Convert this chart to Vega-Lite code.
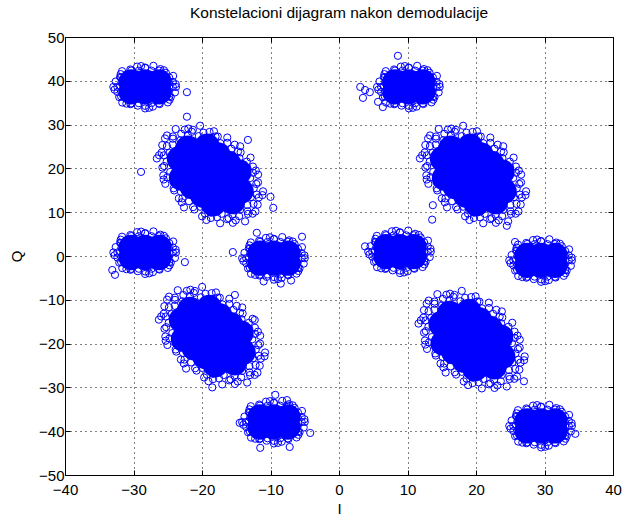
{
  "$schema": "https://vega.github.io/schema/vega-lite/v6.json",
  "width": 548,
  "height": 438,
  "autosize": {"type": "none"},
  "padding": {"left": 65, "top": 37, "right": 12, "bottom": 41},
  "background": "white",
  "title": {
    "text": "Konstelacioni dijagram nakon demodulacije",
    "font": "Liberation Sans",
    "fontSize": 15.5,
    "fontWeight": "normal",
    "color": "#000000",
    "anchor": "middle",
    "offset": 9
  },
  "datasets": {
    "core": [
      {"i": -15.55, "q": 12.40}, {"i": -14.30, "q": 14.82}, {"i": -23.30, "q": 22.18}, {"i": -22.05, "q": 24.60},
      {"i": -18.35, "q": 11.93}, {"i": -17.10, "q": 14.35}, {"i": -15.85, "q": 16.77}, {"i": -14.60, "q": 19.20},
      {"i": -19.91, "q": 13.89}, {"i": -18.65, "q": 16.31}, {"i": -17.40, "q": 18.73}, {"i": -16.15, "q": 21.15},
      {"i": -19.25, "q": 25.07}, {"i": -20.50, "q": 22.65}, {"i": -21.75, "q": 20.23}, {"i": -23.00, "q": 17.80},
      {"i": -17.69, "q": 23.11}, {"i": -18.95, "q": 20.69}, {"i": -20.20, "q": 18.27}, {"i": -21.45, "q": 15.85},

      {"i": 22.85, "q": 12.40}, {"i": 24.10, "q": 14.82}, {"i": 15.10, "q": 22.18}, {"i": 16.35, "q": 24.60},
      {"i": 20.05, "q": 11.93}, {"i": 21.30, "q": 14.35}, {"i": 22.55, "q": 16.77}, {"i": 23.80, "q": 19.20},
      {"i": 18.49, "q": 13.89}, {"i": 19.75, "q": 16.31}, {"i": 21.00, "q": 18.73}, {"i": 22.25, "q": 21.15},
      {"i": 19.15, "q": 25.07}, {"i": 17.90, "q": 22.65}, {"i": 16.65, "q": 20.23}, {"i": 15.40, "q": 17.80},
      {"i": 20.71, "q": 23.11}, {"i": 19.45, "q": 20.69}, {"i": 18.20, "q": 18.27}, {"i": 16.95, "q": 15.85},

      {"i": -15.25, "q": -24.40}, {"i": -14.00, "q": -21.98}, {"i": -23.00, "q": -14.62}, {"i": -21.75, "q": -12.20},
      {"i": -18.05, "q": -24.87}, {"i": -16.80, "q": -22.45}, {"i": -15.55, "q": -20.03}, {"i": -14.30, "q": -17.60},
      {"i": -19.61, "q": -22.91}, {"i": -18.35, "q": -20.49}, {"i": -17.10, "q": -18.07}, {"i": -15.85, "q": -15.65},
      {"i": -18.95, "q": -11.73}, {"i": -20.20, "q": -14.15}, {"i": -21.45, "q": -16.57}, {"i": -22.70, "q": -19.00},
      {"i": -17.39, "q": -13.69}, {"i": -18.65, "q": -16.11}, {"i": -19.90, "q": -18.53}, {"i": -21.15, "q": -20.95},

      {"i": 22.65, "q": -25.30}, {"i": 23.90, "q": -22.88}, {"i": 14.90, "q": -15.52}, {"i": 16.15, "q": -13.10},
      {"i": 19.85, "q": -25.77}, {"i": 21.10, "q": -23.35}, {"i": 22.35, "q": -20.93}, {"i": 23.60, "q": -18.50},
      {"i": 18.29, "q": -23.81}, {"i": 19.55, "q": -21.39}, {"i": 20.80, "q": -18.97}, {"i": 22.05, "q": -16.55},
      {"i": 18.95, "q": -12.63}, {"i": 17.70, "q": -15.05}, {"i": 16.45, "q": -17.47}, {"i": 15.20, "q": -19.90},
      {"i": 20.51, "q": -14.59}, {"i": 19.25, "q": -17.01}, {"i": 18.00, "q": -19.43}, {"i": 16.75, "q": -21.85},

      {"i": -30.34, "q": 39.74}, {"i": -28.30, "q": 39.74}, {"i": -26.26, "q": 39.74},
      {"i": -30.34, "q": 37.46}, {"i": -28.30, "q": 37.46}, {"i": -26.26, "q": 37.46},
      {"i": 8.16, "q": 39.74}, {"i": 10.20, "q": 39.74}, {"i": 12.24, "q": 39.74},
      {"i": 8.16, "q": 37.46}, {"i": 10.20, "q": 37.46}, {"i": 12.24, "q": 37.46},
      {"i": -30.34, "q": 1.94}, {"i": -28.30, "q": 1.94}, {"i": -26.26, "q": 1.94},
      {"i": -30.34, "q": -0.34}, {"i": -28.30, "q": -0.34}, {"i": -26.26, "q": -0.34},
      {"i": -11.54, "q": 0.64}, {"i": -9.50, "q": 0.64}, {"i": -7.46, "q": 0.64},
      {"i": -11.54, "q": -1.64}, {"i": -9.50, "q": -1.64}, {"i": -7.46, "q": -1.64},
      {"i": 6.86, "q": 2.14}, {"i": 8.90, "q": 2.14}, {"i": 10.94, "q": 2.14},
      {"i": 6.86, "q": -0.14}, {"i": 8.90, "q": -0.14}, {"i": 10.94, "q": -0.14},
      {"i": 27.46, "q": 0.14}, {"i": 29.50, "q": 0.14}, {"i": 31.54, "q": 0.14},
      {"i": 27.46, "q": -2.14}, {"i": 29.50, "q": -2.14}, {"i": 31.54, "q": -2.14},
      {"i": -11.54, "q": -36.76}, {"i": -9.50, "q": -36.76}, {"i": -7.46, "q": -36.76},
      {"i": -11.54, "q": -39.04}, {"i": -9.50, "q": -39.04}, {"i": -7.46, "q": -39.04},
      {"i": 27.46, "q": -37.66}, {"i": 29.50, "q": -37.66}, {"i": 31.54, "q": -37.66},
      {"i": 27.46, "q": -39.94}, {"i": 29.50, "q": -39.94}, {"i": 31.54, "q": -39.94}
    ],
    "ring": [
      {"i": -12.20, "q": 10.16}, {"i": -13.29, "q": 9.62}, {"i": -13.71, "q": 7.91}, {"i": -15.08, "q": 8.15},
      {"i": -16.33, "q": 8.41}, {"i": -17.35, "q": 7.47}, {"i": -18.70, "q": 8.68}, {"i": -19.99, "q": 9.06},
      {"i": -21.10, "q": 10.63}, {"i": -22.63, "q": 11.10}, {"i": -23.38, "q": 13.16}, {"i": -24.06, "q": 14.97},
      {"i": -25.35, "q": 16.48}, {"i": -25.65, "q": 18.41}, {"i": -25.78, "q": 20.20}, {"i": -26.59, "q": 22.27},
      {"i": -25.89, "q": 23.63}, {"i": -25.80, "q": 25.33}, {"i": -25.40, "q": 26.84}, {"i": -24.25, "q": 27.29},
      {"i": -23.84, "q": 28.99}, {"i": -22.52, "q": 28.85}, {"i": -21.33, "q": 28.81}, {"i": -20.28, "q": 29.74},
      {"i": -18.90, "q": 28.32}, {"i": -17.70, "q": 27.28}, {"i": -16.31, "q": 27.04}, {"i": -15.23, "q": 25.41},
      {"i": -14.36, "q": 23.67}, {"i": -12.91, "q": 22.46}, {"i": -12.57, "q": 20.42}, {"i": -11.81, "q": 18.59},
      {"i": -11.82, "q": 16.80}, {"i": -11.09, "q": 14.77}, {"i": -11.71, "q": 13.37}, {"i": -11.87, "q": 11.74},
      {"i": -12.61, "q": 9.66}, {"i": -15.50, "q": 7.58}, {"i": -19.36, "q": 8.22}, {"i": -22.96, "q": 12.27},
      {"i": -25.60, "q": 17.46}, {"i": -26.26, "q": 23.00}, {"i": -25.11, "q": 27.52}, {"i": -22.00, "q": 29.09},
      {"i": -18.26, "q": 28.48}, {"i": -14.43, "q": 25.05}, {"i": -12.14, "q": 19.52}, {"i": -11.18, "q": 13.90},
      {"i": -13.38, "q": 11.65}, {"i": -14.45, "q": 10.55}, {"i": -15.54, "q": 9.44}, {"i": -17.13, "q": 9.63},
      {"i": -18.70, "q": 9.90}, {"i": -20.28, "q": 11.25}, {"i": -21.89, "q": 12.51}, {"i": -23.07, "q": 14.67},
      {"i": -24.13, "q": 16.86}, {"i": -24.64, "q": 19.19}, {"i": -25.15, "q": 21.58}, {"i": -24.75, "q": 23.54},
      {"i": -24.28, "q": 25.43}, {"i": -23.15, "q": 26.45}, {"i": -22.06, "q": 27.56}, {"i": -20.47, "q": 27.37},
      {"i": -18.89, "q": 26.99}, {"i": -17.32, "q": 25.75}, {"i": -15.71, "q": 24.49}, {"i": -14.53, "q": 22.33},
      {"i": -13.40, "q": 20.16}, {"i": -12.96, "q": 17.81}, {"i": -12.45, "q": 15.42}, {"i": -12.85, "q": 13.46},
      {"i": -13.35, "q": 10.22}, {"i": -14.58, "q": 9.11}, {"i": -16.11, "q": 8.64}, {"i": -17.81, "q": 8.84},
      {"i": -19.58, "q": 9.71}, {"i": -21.30, "q": 11.16}, {"i": -22.86, "q": 13.14}, {"i": -24.14, "q": 15.45},
      {"i": -25.05, "q": 17.99}, {"i": -25.53, "q": 20.55}, {"i": -25.56, "q": 22.98}, {"i": -25.12, "q": 25.10},
      {"i": -24.25, "q": 26.78}, {"i": -23.02, "q": 27.89}, {"i": -21.49, "q": 28.36}, {"i": -19.79, "q": 28.16},
      {"i": -18.02, "q": 27.29}, {"i": -16.30, "q": 25.84}, {"i": -14.74, "q": 23.86}, {"i": -13.46, "q": 21.55},
      {"i": -12.55, "q": 19.01}, {"i": -12.07, "q": 16.45}, {"i": -12.04, "q": 14.02}, {"i": -12.48, "q": 11.90},
      {"i": -28.9, "q": 19.2}, {"i": -22.2, "q": 31.8}, {"i": -10.0, "q": 13.5}, {"i": -9.6, "q": 11.0}, {"i": -13.3, "q": 26.5},

      {"i": 26.20, "q": 10.16}, {"i": 25.11, "q": 9.62}, {"i": 24.69, "q": 7.91}, {"i": 23.32, "q": 8.15},
      {"i": 22.07, "q": 8.41}, {"i": 21.05, "q": 7.47}, {"i": 19.70, "q": 8.68}, {"i": 18.41, "q": 9.06},
      {"i": 17.30, "q": 10.63}, {"i": 15.77, "q": 11.10}, {"i": 15.02, "q": 13.16}, {"i": 14.34, "q": 14.97},
      {"i": 13.05, "q": 16.48}, {"i": 12.75, "q": 18.41}, {"i": 12.62, "q": 20.20}, {"i": 11.81, "q": 22.27},
      {"i": 12.51, "q": 23.63}, {"i": 12.60, "q": 25.33}, {"i": 13.00, "q": 26.84}, {"i": 14.15, "q": 27.29},
      {"i": 14.56, "q": 28.99}, {"i": 15.88, "q": 28.85}, {"i": 17.07, "q": 28.81}, {"i": 18.12, "q": 29.74},
      {"i": 19.50, "q": 28.32}, {"i": 20.70, "q": 27.28}, {"i": 22.09, "q": 27.04}, {"i": 23.17, "q": 25.41},
      {"i": 24.04, "q": 23.67}, {"i": 25.49, "q": 22.46}, {"i": 25.83, "q": 20.42}, {"i": 26.59, "q": 18.59},
      {"i": 26.58, "q": 16.80}, {"i": 27.31, "q": 14.77}, {"i": 26.69, "q": 13.37}, {"i": 26.53, "q": 11.74},
      {"i": 25.79, "q": 9.66}, {"i": 22.90, "q": 7.58}, {"i": 19.04, "q": 8.22}, {"i": 15.44, "q": 12.27},
      {"i": 12.80, "q": 17.46}, {"i": 12.14, "q": 23.00}, {"i": 13.29, "q": 27.52}, {"i": 16.40, "q": 29.09},
      {"i": 20.14, "q": 28.48}, {"i": 23.97, "q": 25.05}, {"i": 26.26, "q": 19.52}, {"i": 27.22, "q": 13.90},
      {"i": 25.02, "q": 11.65}, {"i": 23.95, "q": 10.55}, {"i": 22.86, "q": 9.44}, {"i": 21.27, "q": 9.63},
      {"i": 19.70, "q": 9.90}, {"i": 18.12, "q": 11.25}, {"i": 16.51, "q": 12.51}, {"i": 15.33, "q": 14.67},
      {"i": 14.27, "q": 16.86}, {"i": 13.76, "q": 19.19}, {"i": 13.25, "q": 21.58}, {"i": 13.65, "q": 23.54},
      {"i": 14.12, "q": 25.43}, {"i": 15.25, "q": 26.45}, {"i": 16.34, "q": 27.56}, {"i": 17.93, "q": 27.37},
      {"i": 19.51, "q": 26.99}, {"i": 21.08, "q": 25.75}, {"i": 22.69, "q": 24.49}, {"i": 23.87, "q": 22.33},
      {"i": 25.00, "q": 20.16}, {"i": 25.44, "q": 17.81}, {"i": 25.95, "q": 15.42}, {"i": 25.55, "q": 13.46},
      {"i": 25.05, "q": 10.22}, {"i": 23.82, "q": 9.11}, {"i": 22.29, "q": 8.64}, {"i": 20.59, "q": 8.84},
      {"i": 18.82, "q": 9.71}, {"i": 17.10, "q": 11.16}, {"i": 15.54, "q": 13.14}, {"i": 14.26, "q": 15.45},
      {"i": 13.35, "q": 17.99}, {"i": 12.87, "q": 20.55}, {"i": 12.84, "q": 22.98}, {"i": 13.28, "q": 25.10},
      {"i": 14.15, "q": 26.78}, {"i": 15.38, "q": 27.89}, {"i": 16.91, "q": 28.36}, {"i": 18.61, "q": 28.16},
      {"i": 20.38, "q": 27.29}, {"i": 22.10, "q": 25.84}, {"i": 23.66, "q": 23.86}, {"i": 24.94, "q": 21.55},
      {"i": 25.85, "q": 19.01}, {"i": 26.33, "q": 16.45}, {"i": 26.36, "q": 14.02}, {"i": 25.92, "q": 11.90},
      {"i": 13.6, "q": 8.3}, {"i": 13.7, "q": 11.6}, {"i": 24.5, "q": 6.9},

      {"i": -11.90, "q": -26.64}, {"i": -12.99, "q": -27.18}, {"i": -13.41, "q": -28.89}, {"i": -14.78, "q": -28.65},
      {"i": -16.03, "q": -28.39}, {"i": -17.05, "q": -29.33}, {"i": -18.40, "q": -28.12}, {"i": -19.69, "q": -27.74},
      {"i": -20.80, "q": -26.17}, {"i": -22.33, "q": -25.70}, {"i": -23.08, "q": -23.64}, {"i": -23.76, "q": -21.83},
      {"i": -25.05, "q": -20.32}, {"i": -25.35, "q": -18.39}, {"i": -25.48, "q": -16.60}, {"i": -26.29, "q": -14.53},
      {"i": -25.59, "q": -13.17}, {"i": -25.50, "q": -11.47}, {"i": -25.10, "q": -9.96}, {"i": -23.95, "q": -9.51},
      {"i": -23.54, "q": -7.81}, {"i": -22.22, "q": -7.95}, {"i": -21.03, "q": -7.99}, {"i": -19.98, "q": -7.06},
      {"i": -18.60, "q": -8.48}, {"i": -17.40, "q": -9.52}, {"i": -16.01, "q": -9.76}, {"i": -14.93, "q": -11.39},
      {"i": -14.06, "q": -13.13}, {"i": -12.61, "q": -14.34}, {"i": -12.27, "q": -16.38}, {"i": -11.51, "q": -18.21},
      {"i": -11.52, "q": -20.00}, {"i": -10.79, "q": -22.03}, {"i": -11.41, "q": -23.43}, {"i": -11.57, "q": -25.06},
      {"i": -12.31, "q": -27.14}, {"i": -15.20, "q": -29.22}, {"i": -19.06, "q": -28.58}, {"i": -22.66, "q": -24.53},
      {"i": -25.30, "q": -19.34}, {"i": -25.96, "q": -13.80}, {"i": -24.81, "q": -9.28}, {"i": -21.70, "q": -7.71},
      {"i": -17.96, "q": -8.32}, {"i": -14.13, "q": -11.75}, {"i": -11.84, "q": -17.28}, {"i": -10.88, "q": -22.90},
      {"i": -13.08, "q": -25.15}, {"i": -14.15, "q": -26.25}, {"i": -15.24, "q": -27.36}, {"i": -16.83, "q": -27.17},
      {"i": -18.40, "q": -26.90}, {"i": -19.98, "q": -25.55}, {"i": -21.59, "q": -24.29}, {"i": -22.77, "q": -22.13},
      {"i": -23.83, "q": -19.94}, {"i": -24.34, "q": -17.61}, {"i": -24.85, "q": -15.22}, {"i": -24.45, "q": -13.26},
      {"i": -23.98, "q": -11.37}, {"i": -22.85, "q": -10.35}, {"i": -21.76, "q": -9.24}, {"i": -20.17, "q": -9.43},
      {"i": -18.59, "q": -9.81}, {"i": -17.02, "q": -11.05}, {"i": -15.41, "q": -12.31}, {"i": -14.23, "q": -14.47},
      {"i": -13.10, "q": -16.64}, {"i": -12.66, "q": -18.99}, {"i": -12.15, "q": -21.38}, {"i": -12.55, "q": -23.34},
      {"i": -13.05, "q": -26.58}, {"i": -14.28, "q": -27.69}, {"i": -15.81, "q": -28.16}, {"i": -17.51, "q": -27.96},
      {"i": -19.28, "q": -27.09}, {"i": -21.00, "q": -25.64}, {"i": -22.56, "q": -23.66}, {"i": -23.84, "q": -21.35},
      {"i": -24.75, "q": -18.81}, {"i": -25.23, "q": -16.25}, {"i": -25.26, "q": -13.82}, {"i": -24.82, "q": -11.70},
      {"i": -23.95, "q": -10.02}, {"i": -22.72, "q": -8.91}, {"i": -21.19, "q": -8.44}, {"i": -19.49, "q": -8.64},
      {"i": -17.72, "q": -9.51}, {"i": -16.00, "q": -10.96}, {"i": -14.44, "q": -12.94}, {"i": -13.16, "q": -15.25},
      {"i": -12.25, "q": -17.79}, {"i": -11.77, "q": -20.35}, {"i": -11.74, "q": -22.78}, {"i": -12.18, "q": -24.90},
      {"i": -15.2, "q": -8.9}, {"i": -12.3, "q": -14.6}, {"i": -18.5, "q": -30.0},

      {"i": 26.00, "q": -27.54}, {"i": 24.91, "q": -28.08}, {"i": 24.49, "q": -29.79}, {"i": 23.12, "q": -29.55},
      {"i": 21.87, "q": -29.29}, {"i": 20.85, "q": -30.23}, {"i": 19.50, "q": -29.02}, {"i": 18.21, "q": -28.64},
      {"i": 17.10, "q": -27.07}, {"i": 15.57, "q": -26.60}, {"i": 14.82, "q": -24.54}, {"i": 14.14, "q": -22.73},
      {"i": 12.85, "q": -21.22}, {"i": 12.55, "q": -19.29}, {"i": 12.42, "q": -17.50}, {"i": 11.61, "q": -15.43},
      {"i": 12.31, "q": -14.07}, {"i": 12.40, "q": -12.37}, {"i": 12.80, "q": -10.86}, {"i": 13.95, "q": -10.41},
      {"i": 14.36, "q": -8.71}, {"i": 15.68, "q": -8.85}, {"i": 16.87, "q": -8.89}, {"i": 17.92, "q": -7.96},
      {"i": 19.30, "q": -9.38}, {"i": 20.50, "q": -10.42}, {"i": 21.89, "q": -10.66}, {"i": 22.97, "q": -12.29},
      {"i": 23.84, "q": -14.03}, {"i": 25.29, "q": -15.24}, {"i": 25.63, "q": -17.28}, {"i": 26.39, "q": -19.11},
      {"i": 26.38, "q": -20.90}, {"i": 27.11, "q": -22.93}, {"i": 26.49, "q": -24.33}, {"i": 26.33, "q": -25.96},
      {"i": 25.59, "q": -28.04}, {"i": 22.70, "q": -30.12}, {"i": 18.84, "q": -29.48}, {"i": 15.24, "q": -25.43},
      {"i": 12.60, "q": -20.24}, {"i": 11.94, "q": -14.70}, {"i": 13.09, "q": -10.18}, {"i": 16.20, "q": -8.61},
      {"i": 19.94, "q": -9.22}, {"i": 23.77, "q": -12.65}, {"i": 26.06, "q": -18.18}, {"i": 27.02, "q": -23.80},
      {"i": 24.82, "q": -26.05}, {"i": 23.75, "q": -27.15}, {"i": 22.66, "q": -28.26}, {"i": 21.07, "q": -28.07},
      {"i": 19.50, "q": -27.80}, {"i": 17.92, "q": -26.45}, {"i": 16.31, "q": -25.19}, {"i": 15.13, "q": -23.03},
      {"i": 14.07, "q": -20.84}, {"i": 13.56, "q": -18.51}, {"i": 13.05, "q": -16.12}, {"i": 13.45, "q": -14.16},
      {"i": 13.92, "q": -12.27}, {"i": 15.05, "q": -11.25}, {"i": 16.14, "q": -10.14}, {"i": 17.73, "q": -10.33},
      {"i": 19.31, "q": -10.71}, {"i": 20.88, "q": -11.95}, {"i": 22.49, "q": -13.21}, {"i": 23.67, "q": -15.37},
      {"i": 24.80, "q": -17.54}, {"i": 25.24, "q": -19.89}, {"i": 25.75, "q": -22.28}, {"i": 25.35, "q": -24.24},
      {"i": 24.85, "q": -27.48}, {"i": 23.62, "q": -28.59}, {"i": 22.09, "q": -29.06}, {"i": 20.39, "q": -28.86},
      {"i": 18.62, "q": -27.99}, {"i": 16.90, "q": -26.54}, {"i": 15.34, "q": -24.56}, {"i": 14.06, "q": -22.25},
      {"i": 13.15, "q": -19.71}, {"i": 12.67, "q": -17.15}, {"i": 12.64, "q": -14.72}, {"i": 13.08, "q": -12.60},
      {"i": 13.95, "q": -10.92}, {"i": 15.18, "q": -9.81}, {"i": 16.71, "q": -9.34}, {"i": 18.41, "q": -9.54},
      {"i": 20.18, "q": -10.41}, {"i": 21.90, "q": -11.86}, {"i": 23.46, "q": -13.84}, {"i": 24.74, "q": -16.15},
      {"i": 25.65, "q": -18.69}, {"i": 26.13, "q": -21.25}, {"i": 26.16, "q": -23.68}, {"i": 25.72, "q": -25.80},
      {"i": 27.0, "q": -28.6},

      {"i": -23.80, "q": 38.60}, {"i": -24.26, "q": 39.76}, {"i": -24.21, "q": 41.12}, {"i": -25.28, "q": 41.82},
      {"i": -26.09, "q": 42.67}, {"i": -27.09, "q": 43.42}, {"i": -28.30, "q": 43.02}, {"i": -29.47, "q": 43.24},
      {"i": -30.46, "q": 42.59}, {"i": -31.67, "q": 42.20}, {"i": -31.96, "q": 40.86}, {"i": -32.60, "q": 39.83},
      {"i": -32.94, "q": 38.60}, {"i": -32.34, "q": 37.44}, {"i": -32.08, "q": 36.27}, {"i": -31.64, "q": 35.04},
      {"i": -30.44, "q": 34.65}, {"i": -29.37, "q": 34.33}, {"i": -28.30, "q": 33.70}, {"i": -27.17, "q": 34.10},
      {"i": -26.18, "q": 34.69}, {"i": -24.99, "q": 35.07}, {"i": -24.56, "q": 36.30}, {"i": -23.95, "q": 37.36},
      {"i": -23.84, "q": 39.23}, {"i": -25.56, "q": 42.41}, {"i": -28.89, "q": 43.36}, {"i": -31.87, "q": 41.52},
      {"i": -32.76, "q": 37.97}, {"i": -31.04, "q": 34.79}, {"i": -27.71, "q": 33.84}, {"i": -24.73, "q": 35.68},
      {"i": -24.82, "q": 39.59}, {"i": -25.75, "q": 41.32}, {"i": -27.37, "q": 42.31}, {"i": -29.23, "q": 42.31},
      {"i": -30.85, "q": 41.32}, {"i": -31.78, "q": 39.59}, {"i": -31.78, "q": 37.61}, {"i": -30.85, "q": 35.88},
      {"i": -29.23, "q": 34.89}, {"i": -27.37, "q": 34.89}, {"i": -25.75, "q": 35.88}, {"i": -24.82, "q": 37.61},
      {"i": -24.25, "q": 38.60}, {"i": -24.79, "q": 40.76}, {"i": -26.27, "q": 42.34}, {"i": -28.30, "q": 42.92},
      {"i": -30.33, "q": 42.34}, {"i": -31.81, "q": 40.76}, {"i": -32.35, "q": 38.60}, {"i": -31.81, "q": 36.44},
      {"i": -30.33, "q": 34.86}, {"i": -28.30, "q": 34.28}, {"i": -26.27, "q": 34.86}, {"i": -24.79, "q": 36.44},
      {"i": -22.2, "q": 37.4},

      {"i": 14.70, "q": 38.60}, {"i": 14.24, "q": 39.76}, {"i": 14.29, "q": 41.12}, {"i": 13.22, "q": 41.82},
      {"i": 12.41, "q": 42.67}, {"i": 11.41, "q": 43.42}, {"i": 10.20, "q": 43.02}, {"i": 9.03, "q": 43.24},
      {"i": 8.04, "q": 42.59}, {"i": 6.83, "q": 42.20}, {"i": 6.54, "q": 40.86}, {"i": 5.90, "q": 39.83},
      {"i": 5.56, "q": 38.60}, {"i": 6.16, "q": 37.44}, {"i": 6.42, "q": 36.27}, {"i": 6.86, "q": 35.04},
      {"i": 8.06, "q": 34.65}, {"i": 9.13, "q": 34.33}, {"i": 10.20, "q": 33.70}, {"i": 11.33, "q": 34.10},
      {"i": 12.32, "q": 34.69}, {"i": 13.51, "q": 35.07}, {"i": 13.94, "q": 36.30}, {"i": 14.55, "q": 37.36},
      {"i": 14.66, "q": 39.23}, {"i": 12.94, "q": 42.41}, {"i": 9.61, "q": 43.36}, {"i": 6.63, "q": 41.52},
      {"i": 5.74, "q": 37.97}, {"i": 7.46, "q": 34.79}, {"i": 10.79, "q": 33.84}, {"i": 13.77, "q": 35.68},
      {"i": 13.68, "q": 39.59}, {"i": 12.75, "q": 41.32}, {"i": 11.13, "q": 42.31}, {"i": 9.27, "q": 42.31},
      {"i": 7.65, "q": 41.32}, {"i": 6.72, "q": 39.59}, {"i": 6.72, "q": 37.61}, {"i": 7.65, "q": 35.88},
      {"i": 9.27, "q": 34.89}, {"i": 11.13, "q": 34.89}, {"i": 12.75, "q": 35.88}, {"i": 13.68, "q": 37.61},
      {"i": 14.25, "q": 38.60}, {"i": 13.71, "q": 40.76}, {"i": 12.23, "q": 42.34}, {"i": 10.20, "q": 42.92},
      {"i": 8.17, "q": 42.34}, {"i": 6.69, "q": 40.76}, {"i": 6.15, "q": 38.60}, {"i": 6.69, "q": 36.44},
      {"i": 8.17, "q": 34.86}, {"i": 10.20, "q": 34.28}, {"i": 12.23, "q": 34.86}, {"i": 13.71, "q": 36.44},
      {"i": 8.6, "q": 45.7}, {"i": 3.1, "q": 38.6}, {"i": 3.8, "q": 37.9}, {"i": 4.5, "q": 37.4},
      {"i": 3.5, "q": 36.1}, {"i": 6.4, "q": 34.0}, {"i": 5.7, "q": 35.2},

      {"i": -23.80, "q": 0.80}, {"i": -24.26, "q": 1.96}, {"i": -24.21, "q": 3.32}, {"i": -25.28, "q": 4.02},
      {"i": -26.09, "q": 4.87}, {"i": -27.09, "q": 5.62}, {"i": -28.30, "q": 5.22}, {"i": -29.47, "q": 5.44},
      {"i": -30.46, "q": 4.79}, {"i": -31.67, "q": 4.40}, {"i": -31.96, "q": 3.06}, {"i": -32.60, "q": 2.03},
      {"i": -32.94, "q": 0.80}, {"i": -32.34, "q": -0.36}, {"i": -32.08, "q": -1.53}, {"i": -31.64, "q": -2.76},
      {"i": -30.44, "q": -3.15}, {"i": -29.37, "q": -3.47}, {"i": -28.30, "q": -4.10}, {"i": -27.17, "q": -3.70},
      {"i": -26.18, "q": -3.11}, {"i": -24.99, "q": -2.73}, {"i": -24.56, "q": -1.50}, {"i": -23.95, "q": -0.44},
      {"i": -23.84, "q": 1.43}, {"i": -25.56, "q": 4.61}, {"i": -28.89, "q": 5.56}, {"i": -31.87, "q": 3.72},
      {"i": -32.76, "q": 0.17}, {"i": -31.04, "q": -3.01}, {"i": -27.71, "q": -3.96}, {"i": -24.73, "q": -2.12},
      {"i": -24.82, "q": 1.79}, {"i": -25.75, "q": 3.52}, {"i": -27.37, "q": 4.51}, {"i": -29.23, "q": 4.51},
      {"i": -30.85, "q": 3.52}, {"i": -31.78, "q": 1.79}, {"i": -31.78, "q": -0.19}, {"i": -30.85, "q": -1.92},
      {"i": -29.23, "q": -2.91}, {"i": -27.37, "q": -2.91}, {"i": -25.75, "q": -1.92}, {"i": -24.82, "q": -0.19},
      {"i": -24.25, "q": 0.80}, {"i": -24.79, "q": 2.96}, {"i": -26.27, "q": 4.54}, {"i": -28.30, "q": 5.12},
      {"i": -30.33, "q": 4.54}, {"i": -31.81, "q": 2.96}, {"i": -32.35, "q": 0.80}, {"i": -31.81, "q": -1.36},
      {"i": -30.33, "q": -2.94}, {"i": -28.30, "q": -3.52}, {"i": -26.27, "q": -2.94}, {"i": -24.79, "q": -1.36},
      {"i": -22.5, "q": -1.4}, {"i": -32.7, "q": -4.3}, {"i": -33.1, "q": -3.2},

      {"i": -5.00, "q": -0.50}, {"i": -5.46, "q": 0.66}, {"i": -5.41, "q": 2.02}, {"i": -6.48, "q": 2.72},
      {"i": -7.29, "q": 3.57}, {"i": -8.29, "q": 4.32}, {"i": -9.50, "q": 3.92}, {"i": -10.67, "q": 4.14},
      {"i": -11.66, "q": 3.49}, {"i": -12.87, "q": 3.10}, {"i": -13.16, "q": 1.76}, {"i": -13.80, "q": 0.73},
      {"i": -14.14, "q": -0.50}, {"i": -13.54, "q": -1.66}, {"i": -13.28, "q": -2.83}, {"i": -12.84, "q": -4.06},
      {"i": -11.64, "q": -4.45}, {"i": -10.57, "q": -4.77}, {"i": -9.50, "q": -5.40}, {"i": -8.37, "q": -5.00},
      {"i": -7.38, "q": -4.41}, {"i": -6.19, "q": -4.03}, {"i": -5.76, "q": -2.80}, {"i": -5.15, "q": -1.74},
      {"i": -5.04, "q": 0.13}, {"i": -6.76, "q": 3.31}, {"i": -10.09, "q": 4.26}, {"i": -13.07, "q": 2.42},
      {"i": -13.96, "q": -1.13}, {"i": -12.24, "q": -4.31}, {"i": -8.91, "q": -5.26}, {"i": -5.93, "q": -3.42},
      {"i": -6.02, "q": 0.49}, {"i": -6.95, "q": 2.22}, {"i": -8.57, "q": 3.21}, {"i": -10.43, "q": 3.21},
      {"i": -12.05, "q": 2.22}, {"i": -12.98, "q": 0.49}, {"i": -12.98, "q": -1.49}, {"i": -12.05, "q": -3.22},
      {"i": -10.43, "q": -4.21}, {"i": -8.57, "q": -4.21}, {"i": -6.95, "q": -3.22}, {"i": -6.02, "q": -1.49},
      {"i": -5.45, "q": -0.50}, {"i": -5.99, "q": 1.66}, {"i": -7.47, "q": 3.24}, {"i": -9.50, "q": 3.82},
      {"i": -11.53, "q": 3.24}, {"i": -13.01, "q": 1.66}, {"i": -13.55, "q": -0.50}, {"i": -13.01, "q": -2.66},
      {"i": -11.53, "q": -4.24}, {"i": -9.50, "q": -4.82}, {"i": -7.47, "q": -4.24}, {"i": -5.99, "q": -2.66},
      {"i": -15.5, "q": 0.9}, {"i": -12.0, "q": 5.3}, {"i": -5.4, "q": 4.4}, {"i": -11.0, "q": -5.8},
      {"i": -8.5, "q": -6.3}, {"i": -7.0, "q": -5.6},

      {"i": 13.40, "q": 1.00}, {"i": 12.94, "q": 2.16}, {"i": 12.99, "q": 3.52}, {"i": 11.92, "q": 4.22},
      {"i": 11.11, "q": 5.07}, {"i": 10.11, "q": 5.82}, {"i": 8.90, "q": 5.42}, {"i": 7.73, "q": 5.64},
      {"i": 6.74, "q": 4.99}, {"i": 5.53, "q": 4.60}, {"i": 5.24, "q": 3.26}, {"i": 4.60, "q": 2.23},
      {"i": 4.26, "q": 1.00}, {"i": 4.86, "q": -0.16}, {"i": 5.12, "q": -1.33}, {"i": 5.56, "q": -2.56},
      {"i": 6.76, "q": -2.95}, {"i": 7.83, "q": -3.27}, {"i": 8.90, "q": -3.90}, {"i": 10.03, "q": -3.50},
      {"i": 11.02, "q": -2.91}, {"i": 12.21, "q": -2.53}, {"i": 12.64, "q": -1.30}, {"i": 13.25, "q": -0.24},
      {"i": 13.36, "q": 1.63}, {"i": 11.64, "q": 4.81}, {"i": 8.31, "q": 5.76}, {"i": 5.33, "q": 3.92},
      {"i": 4.44, "q": 0.37}, {"i": 6.16, "q": -2.81}, {"i": 9.49, "q": -3.76}, {"i": 12.47, "q": -1.92},
      {"i": 12.38, "q": 1.99}, {"i": 11.45, "q": 3.72}, {"i": 9.83, "q": 4.71}, {"i": 7.97, "q": 4.71},
      {"i": 6.35, "q": 3.72}, {"i": 5.42, "q": 1.99}, {"i": 5.42, "q": 0.01}, {"i": 6.35, "q": -1.72},
      {"i": 7.97, "q": -2.71}, {"i": 9.83, "q": -2.71}, {"i": 11.45, "q": -1.72}, {"i": 12.38, "q": 0.01},
      {"i": 12.95, "q": 1.00}, {"i": 12.41, "q": 3.16}, {"i": 10.93, "q": 4.74}, {"i": 8.90, "q": 5.32},
      {"i": 6.87, "q": 4.74}, {"i": 5.39, "q": 3.16}, {"i": 4.85, "q": 1.00}, {"i": 5.39, "q": -1.16},
      {"i": 6.87, "q": -2.74}, {"i": 8.90, "q": -3.32}, {"i": 10.93, "q": -2.74}, {"i": 12.41, "q": -1.16},
      {"i": 3.8, "q": 2.2},

      {"i": 34.00, "q": -1.00}, {"i": 33.54, "q": 0.16}, {"i": 33.59, "q": 1.52}, {"i": 32.52, "q": 2.22},
      {"i": 31.71, "q": 3.07}, {"i": 30.71, "q": 3.82}, {"i": 29.50, "q": 3.42}, {"i": 28.33, "q": 3.64},
      {"i": 27.34, "q": 2.99}, {"i": 26.13, "q": 2.60}, {"i": 25.84, "q": 1.26}, {"i": 25.20, "q": 0.23},
      {"i": 24.86, "q": -1.00}, {"i": 25.46, "q": -2.16}, {"i": 25.72, "q": -3.33}, {"i": 26.16, "q": -4.56},
      {"i": 27.36, "q": -4.95}, {"i": 28.43, "q": -5.27}, {"i": 29.50, "q": -5.90}, {"i": 30.63, "q": -5.50},
      {"i": 31.62, "q": -4.91}, {"i": 32.81, "q": -4.53}, {"i": 33.24, "q": -3.30}, {"i": 33.85, "q": -2.24},
      {"i": 33.96, "q": -0.37}, {"i": 32.24, "q": 2.81}, {"i": 28.91, "q": 3.76}, {"i": 25.93, "q": 1.92},
      {"i": 25.04, "q": -1.63}, {"i": 26.76, "q": -4.81}, {"i": 30.09, "q": -5.76}, {"i": 33.07, "q": -3.92},
      {"i": 32.98, "q": -0.01}, {"i": 32.05, "q": 1.72}, {"i": 30.43, "q": 2.71}, {"i": 28.57, "q": 2.71},
      {"i": 26.95, "q": 1.72}, {"i": 26.02, "q": -0.01}, {"i": 26.02, "q": -1.99}, {"i": 26.95, "q": -3.72},
      {"i": 28.57, "q": -4.71}, {"i": 30.43, "q": -4.71}, {"i": 32.05, "q": -3.72}, {"i": 32.98, "q": -1.99},
      {"i": 33.55, "q": -1.00}, {"i": 33.01, "q": 1.16}, {"i": 31.53, "q": 2.74}, {"i": 29.50, "q": 3.32},
      {"i": 27.47, "q": 2.74}, {"i": 25.99, "q": 1.16}, {"i": 25.45, "q": -1.00}, {"i": 25.99, "q": -3.16},
      {"i": 27.47, "q": -4.74}, {"i": 29.50, "q": -5.32}, {"i": 31.53, "q": -4.74}, {"i": 33.01, "q": -3.16},
      {"i": 25.7, "q": 3.2},

      {"i": -5.00, "q": -37.90}, {"i": -5.46, "q": -36.74}, {"i": -5.41, "q": -35.38}, {"i": -6.48, "q": -34.68},
      {"i": -7.29, "q": -33.83}, {"i": -8.29, "q": -33.08}, {"i": -9.50, "q": -33.48}, {"i": -10.67, "q": -33.26},
      {"i": -11.66, "q": -33.91}, {"i": -12.87, "q": -34.30}, {"i": -13.16, "q": -35.64}, {"i": -13.80, "q": -36.67},
      {"i": -14.14, "q": -37.90}, {"i": -13.54, "q": -39.06}, {"i": -13.28, "q": -40.23}, {"i": -12.84, "q": -41.46},
      {"i": -11.64, "q": -41.85}, {"i": -10.57, "q": -42.17}, {"i": -9.50, "q": -42.80}, {"i": -8.37, "q": -42.40},
      {"i": -7.38, "q": -41.81}, {"i": -6.19, "q": -41.43}, {"i": -5.76, "q": -40.20}, {"i": -5.15, "q": -39.14},
      {"i": -5.04, "q": -37.27}, {"i": -6.76, "q": -34.09}, {"i": -10.09, "q": -33.14}, {"i": -13.07, "q": -35.02},
      {"i": -13.96, "q": -38.53}, {"i": -12.24, "q": -41.71}, {"i": -8.91, "q": -42.66}, {"i": -5.93, "q": -40.82},
      {"i": -6.02, "q": -36.91}, {"i": -6.95, "q": -35.18}, {"i": -8.57, "q": -34.19}, {"i": -10.43, "q": -34.19},
      {"i": -12.05, "q": -35.18}, {"i": -12.98, "q": -36.91}, {"i": -12.98, "q": -38.89}, {"i": -12.05, "q": -40.62},
      {"i": -10.43, "q": -41.61}, {"i": -8.57, "q": -41.61}, {"i": -6.95, "q": -40.62}, {"i": -6.02, "q": -38.89},
      {"i": -5.45, "q": -37.90}, {"i": -5.99, "q": -35.74}, {"i": -7.47, "q": -34.16}, {"i": -9.50, "q": -33.58},
      {"i": -11.53, "q": -34.16}, {"i": -13.01, "q": -35.74}, {"i": -13.55, "q": -37.90}, {"i": -13.01, "q": -40.06},
      {"i": -11.53, "q": -41.64}, {"i": -9.50, "q": -42.22}, {"i": -7.47, "q": -41.64}, {"i": -5.99, "q": -40.06},
      {"i": -9.3, "q": -31.7}, {"i": -14.5, "q": -38.1}, {"i": -4.2, "q": -40.4}, {"i": -7.2, "q": -43.6},
      {"i": -11.5, "q": -43.8}, {"i": -7.6, "q": -32.9},

      {"i": 34.00, "q": -38.80}, {"i": 33.54, "q": -37.64}, {"i": 33.59, "q": -36.28}, {"i": 32.52, "q": -35.58},
      {"i": 31.71, "q": -34.73}, {"i": 30.71, "q": -33.98}, {"i": 29.50, "q": -34.38}, {"i": 28.33, "q": -34.16},
      {"i": 27.34, "q": -34.81}, {"i": 26.13, "q": -35.20}, {"i": 25.84, "q": -36.54}, {"i": 25.20, "q": -37.57},
      {"i": 24.86, "q": -38.80}, {"i": 25.46, "q": -39.96}, {"i": 25.72, "q": -41.13}, {"i": 26.16, "q": -42.36},
      {"i": 27.36, "q": -42.75}, {"i": 28.43, "q": -43.07}, {"i": 29.50, "q": -43.70}, {"i": 30.63, "q": -43.30},
      {"i": 31.62, "q": -42.71}, {"i": 32.81, "q": -42.33}, {"i": 33.24, "q": -41.10}, {"i": 33.85, "q": -40.04},
      {"i": 33.96, "q": -38.17}, {"i": 32.24, "q": -34.99}, {"i": 28.91, "q": -34.04}, {"i": 25.93, "q": -35.92},
      {"i": 25.04, "q": -39.43}, {"i": 26.76, "q": -42.61}, {"i": 30.09, "q": -43.56}, {"i": 33.07, "q": -41.72},
      {"i": 32.98, "q": -37.81}, {"i": 32.05, "q": -36.08}, {"i": 30.43, "q": -35.09}, {"i": 28.57, "q": -35.09},
      {"i": 26.95, "q": -36.08}, {"i": 26.02, "q": -37.81}, {"i": 26.02, "q": -39.79}, {"i": 26.95, "q": -41.52},
      {"i": 28.57, "q": -42.51}, {"i": 30.43, "q": -42.51}, {"i": 32.05, "q": -41.52}, {"i": 32.98, "q": -39.79},
      {"i": 33.55, "q": -38.80}, {"i": 33.01, "q": -36.64}, {"i": 31.53, "q": -35.06}, {"i": 29.50, "q": -34.48},
      {"i": 27.47, "q": -35.06}, {"i": 25.99, "q": -36.64}, {"i": 25.45, "q": -38.80}, {"i": 25.99, "q": -40.96},
      {"i": 27.47, "q": -42.54}, {"i": 29.50, "q": -43.12}, {"i": 31.53, "q": -42.54}, {"i": 33.01, "q": -40.96},
      {"i": 34.5, "q": -40.6}
    ]
  },
  "layer": [
    {
      "data": {"name": "core"},
      "mark": {"type": "point", "shape": "circle", "filled": true, "size": 640, "color": "#0000ff", "opacity": 1, "strokeWidth": 0},
      "encoding": {
        "x": {
          "field": "i", "type": "quantitative",
          "scale": {"domain": [-40, 40], "nice": false, "zero": false},
          "axis": {"orient": "bottom", "values": [-40, -30, -20, -10, 0, 10, 20, 30, 40], "title": "I", "grid": true, "gridDash": [1, 4], "tickSize": -5, "labelPadding": 12, "titlePadding": 4}
        },
        "y": {
          "field": "q", "type": "quantitative",
          "scale": {"domain": [-50, 50], "nice": false, "zero": false},
          "axis": {"orient": "left", "values": [-50, -40, -30, -20, -10, 0, 10, 20, 30, 40, 50], "title": "Q", "grid": true, "gridDash": [1, 4], "tickSize": -5, "labelPadding": 6, "titlePadding": 14}
        }
      }
    },
    {
      "data": {"name": "ring"},
      "mark": {"type": "point", "shape": "circle", "filled": false, "size": 52, "color": "#0000ff", "opacity": 1, "strokeWidth": 1},
      "encoding": {
        "x": {
          "field": "i", "type": "quantitative",
          "scale": {"domain": [-40, 40], "nice": false, "zero": false},
          "axis": {"orient": "top", "values": [-40, -30, -20, -10, 0, 10, 20, 30, 40], "labels": false, "grid": false, "tickSize": -5, "title": null}
        },
        "y": {
          "field": "q", "type": "quantitative",
          "scale": {"domain": [-50, 50], "nice": false, "zero": false},
          "axis": {"orient": "right", "values": [-50, -40, -30, -20, -10, 0, 10, 20, 30, 40, 50], "labels": false, "grid": false, "tickSize": -5, "title": null}
        }
      }
    }
  ],
  "resolve": {"axis": {"x": "independent", "y": "independent"}},
  "config": {
    "view": {"stroke": "#000000", "strokeWidth": 1},
    "axis": {
      "domain": false,
      "ticks": true,
      "tickColor": "#000000",
      "tickWidth": 1,
      "gridColor": "#000000",
      "gridOpacity": 1,
      "gridWidth": 1,
      "labelFont": "Liberation Sans",
      "labelFontSize": 15,
      "labelColor": "#000000",
      "titleFont": "Liberation Sans",
      "titleFontSize": 15,
      "titleFontWeight": "normal",
      "titleColor": "#000000",
      "labelFlush": false,
      "labelOverlap": false
    }
  }
}
